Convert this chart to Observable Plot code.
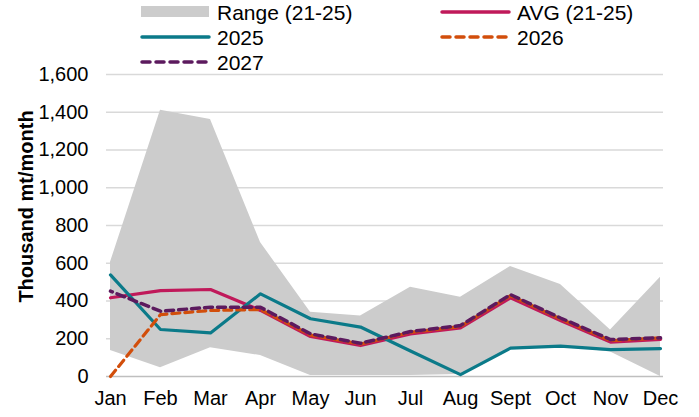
<!DOCTYPE html>
<html>
<head>
<meta charset="utf-8">
<script src="https://cdn.jsdelivr.net/npm/d3@7"></script>
<script src="https://cdn.jsdelivr.net/npm/@observablehq/plot@0.6"></script>
<style>
  html, body { margin: 0; padding: 0; background: #fff; }
  #wrap { position: relative; width: 699px; height: 417px; overflow: hidden; font-family: "Liberation Sans", Arial, sans-serif; }
  #legend { position: absolute; left: 0; top: 0; }
</style>
</head>
<body>
<div id="wrap"></div>
<script>
const months = ["Jan","Feb","Mar","Apr","May","Jun","Jul","Aug","Sept","Oct","Nov","Dec"];
const rangeLow  = [138, 46, 152, 111, 5, 5, 5, 10, 150, 160, 130, 0];
const rangeHigh = [605, 1410, 1362, 710, 340, 320, 473, 420, 583, 487, 247, 526];
const avg       = [417, 455, 461, 350, 212, 164, 226, 258, 417, 297, 182, 196];
const y2025     = [538, 249, 231, 438, 306, 262, 135, 10, 150, 161, 142, 148];
const y2026     = [0, 328, 350, 355, 220, 172, 234, 265, 428, 305, 190, 205];
const y2027     = [452, 346, 367, 367, 226, 176, 238, 270, 434, 310, 196, 205];
const yTicks    = [0, 200, 400, 600, 800, 1000, 1200, 1400, 1600];

const legendItems = [
  {label: "Range (21-25)", kind: "area", color: "#CCCCCC"},
  {label: "AVG (21-25)", kind: "solid", color: "#C0195A"},
  {label: "2025", kind: "solid", color: "#0B7A89"},
  {label: "2026", kind: "dash", color: "#D24E0B"},
  {label: "2027", kind: "dash", color: "#5C1A5E"}
];

const rows = months.map((m, i) => ({
  month: m, low: rangeLow[i], high: rangeHigh[i],
  avg: avg[i], y2025: y2025[i], y2026: y2026[i], y2027: y2027[i]
}));

const chart = Plot.plot({
  width: 699,
  height: 417,
  marginTop: 74,
  marginBottom: 41,
  marginLeft: 106,
  marginRight: 36,
  style: {fontFamily: "'Liberation Sans', Arial, sans-serif", fontSize: "20px", color: "#000", background: "#fff"},
  x: {type: "point", domain: months, padding: 0, label: null},
  y: {domain: [0, 1600], label: null},
  marks: [
    Plot.ruleY(yTicks.filter(d => d > 0), {stroke: "#D9D9D9", strokeWidth: 1.3}),
    Plot.areaY(rows, {x: "month", y1: "low", y2: "high", fill: "#CCCCCC", curve: "linear"}),
    Plot.ruleY([0], {stroke: "#BFBFBF", strokeWidth: 1.5}),
    Plot.line(rows, {x: "month", y: "avg", stroke: "#C0195A", strokeWidth: 3.2}),
    Plot.line(rows, {x: "month", y: "y2025", stroke: "#0B7A89", strokeWidth: 3.2}),
    Plot.line(rows, {x: "month", y: "y2026", stroke: "#D24E0B", strokeWidth: 3.2, strokeDasharray: "8,5"}),
    Plot.line(rows, {x: "month", y: "y2027", stroke: "#5C1A5E", strokeWidth: 3.5, strokeDasharray: "8,5", strokeDashoffset: 6}),
    Plot.axisY({ticks: yTicks, tickFormat: d3.format(","), tickSize: 0, tickPadding: 18, fontSize: 20, label: null}),
    Plot.axisX({tickSize: 0, tickPadding: 14, fontSize: 20, label: null}),
    Plot.text(["Thousand mt/month"], {frameAnchor: "left", textAnchor: "middle", dx: -80, dy: -19, rotate: -90, fontWeight: "bold", fontSize: 20, fill: "#000"})
  ]
});

const wrap = document.getElementById("wrap");
wrap.appendChild(chart);

// Legend
const pos = [
  {x: 141, y: 12}, {x: 441, y: 12},
  {x: 141, y: 37}, {x: 441, y: 37},
  {x: 141, y: 62}
];
const svg = d3.select(wrap).append("svg")
  .attr("id", "legend").attr("width", 699).attr("height", 80);
legendItems.forEach((it, i) => {
  const p = pos[i];
  const g = svg.append("g").attr("transform", `translate(${p.x},${p.y})`);
  if (it.kind === "area") {
    g.append("rect").attr("x", 0).attr("y", -6).attr("width", 68).attr("height", 11).attr("fill", it.color);
  } else {
    g.append("line").attr("x1", 1).attr("x2", 68).attr("y1", 0).attr("y2", 0)
      .attr("stroke", it.color).attr("stroke-width", 3.5).attr("stroke-linecap", "round")
      .attr("stroke-dasharray", it.kind === "dash" ? "8,6" : null);
  }
  g.append("text").attr("x", 76).attr("y", 7.5)
    .attr("font-family", "'Liberation Sans', Arial, sans-serif").attr("font-size", 21)
    .attr("fill", "#000").text(it.label);
});
</script>
</body>
</html>
